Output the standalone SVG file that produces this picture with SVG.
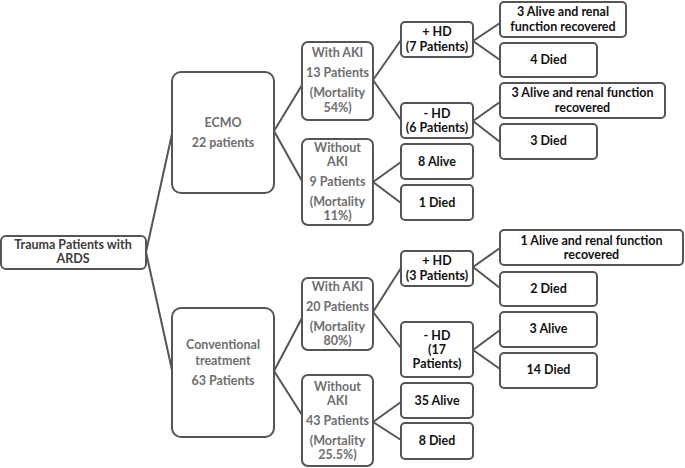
<svg xmlns="http://www.w3.org/2000/svg" width="685" height="468" viewBox="0 0 685 468">
<style>
rect{fill:#fff;stroke:#555;stroke-width:2}
text{font-family:Lato,"Liberation Sans",sans-serif;font-weight:bold;font-size:12.5px;text-anchor:middle}
.g{fill:#6e6e6e}
.d{fill:#3c3c3c}
.k{fill:#111}
#connectors line{stroke:#555;stroke-width:2}
</style>
<g id="connectors">
<line x1="146" y1="252" x2="172" y2="134"/>
<line x1="146" y1="252" x2="172" y2="370"/>
<line x1="274" y1="131" x2="302" y2="85"/>
<line x1="274" y1="131" x2="302" y2="181"/>
<line x1="274" y1="371" x2="302" y2="318"/>
<line x1="274" y1="371" x2="302" y2="415"/>
<line x1="373" y1="80" x2="401" y2="40"/>
<line x1="373" y1="80" x2="401" y2="120"/>
<line x1="373" y1="182" x2="401" y2="162"/>
<line x1="373" y1="182" x2="401" y2="203"/>
<line x1="373" y1="312" x2="401" y2="268"/>
<line x1="373" y1="312" x2="401" y2="348"/>
<line x1="373" y1="422" x2="401" y2="402"/>
<line x1="373" y1="422" x2="401" y2="440"/>
<line x1="473" y1="41" x2="500" y2="23"/>
<line x1="473" y1="41" x2="500" y2="60"/>
<line x1="473" y1="121" x2="500" y2="102"/>
<line x1="473" y1="121" x2="500" y2="142"/>
<line x1="473" y1="267" x2="500" y2="248"/>
<line x1="473" y1="267" x2="500" y2="288"/>
<line x1="473" y1="350" x2="500" y2="330"/>
<line x1="473" y1="350" x2="500" y2="369"/>
</g>
<g id="root"><rect x="1" y="236" width="145" height="33" rx="5"/><text class="d" x="73" y="249">Trauma Patients with</text><text class="d" x="73" y="263">ARDS</text></g>
<g id="ecmo"><rect x="172" y="72" width="102" height="121" rx="9"/><text class="g" x="223" y="127">ECMO</text><text class="g" x="223" y="147">22 patients</text></g>
<g id="conv"><rect x="172" y="308" width="102" height="129" rx="9"/><text class="g" x="223" y="349">Conventional</text><text class="g" x="223" y="365">treatment</text><text class="g" x="223" y="385">63 Patients</text></g>
<g id="ecmo-aki"><rect x="302" y="42" width="71" height="78" rx="6"/><text class="g" x="337.5" y="57">With AKI</text><text class="g" x="337.5" y="77">13 Patients</text><text class="g" x="337.5" y="97">(Mortality</text><text class="g" x="337.5" y="112">54%)</text></g>
<g id="ecmo-noaki"><rect x="302" y="139" width="71" height="86" rx="6"/><text class="g" x="337.5" y="152">Without</text><text class="g" x="337.5" y="166">AKI</text><text class="g" x="337.5" y="186">9 Patients</text><text class="g" x="337.5" y="206">(Mortality</text><text class="g" x="337.5" y="220">11%)</text></g>
<g id="conv-aki"><rect x="302" y="278" width="71" height="72" rx="6"/><text class="g" x="337.5" y="291">With AKI</text><text class="g" x="337.5" y="311">20 Patients</text><text class="g" x="337.5" y="331">(Mortality</text><text class="g" x="337.5" y="345">80%)</text></g>
<g id="conv-noaki"><rect x="302" y="375" width="71" height="91" rx="6"/><text class="g" x="337.5" y="391">Without</text><text class="g" x="337.5" y="405">AKI</text><text class="g" x="337.5" y="425">43 Patients</text><text class="g" x="337.5" y="445">(Mortality</text><text class="g" x="337.5" y="459">25.5%)</text></g>
<g id="hd7"><rect x="401" y="22" width="72" height="35" rx="4"/><text class="k" x="437" y="36">+ HD</text><text class="k" x="437" y="51">(7 Patients)</text></g>
<g id="nhd6"><rect x="401" y="103" width="72" height="35" rx="4"/><text class="k" x="437" y="118">- HD</text><text class="k" x="437" y="132">(6 Patients)</text></g>
<g id="alive8"><rect x="401" y="144" width="72" height="35" rx="4"/><text class="k" x="437" y="166">8 Alive</text></g>
<g id="died1"><rect x="401" y="185" width="72" height="35" rx="4"/><text class="k" x="437" y="207">1 Died</text></g>
<g id="hd3"><rect x="401" y="251" width="72" height="35" rx="4"/><text class="k" x="437" y="265">+ HD</text><text class="k" x="437" y="280">(3 Patients)</text></g>
<g id="nhd17"><rect x="401" y="322" width="72" height="55" rx="4"/><text class="k" x="437" y="340">- HD</text><text class="k" x="437" y="354">(17</text><text class="k" x="437" y="368">Patients)</text></g>
<g id="alive35"><rect x="401" y="383" width="72" height="35" rx="4"/><text class="k" x="437" y="405">35 Alive</text></g>
<g id="died8"><rect x="401" y="423" width="72" height="36" rx="4"/><text class="k" x="437" y="445">8 Died</text></g>
<g id="a3r1"><rect x="500" y="2" width="126" height="35" rx="4"/><text class="k" x="563" y="16">3 Alive and renal</text><text class="k" x="563" y="31">function recovered</text></g>
<g id="died4"><rect x="500" y="43" width="97" height="34" rx="4"/><text class="k" x="548.5" y="64">4 Died</text></g>
<g id="a3r2"><rect x="500" y="83" width="165" height="35" rx="4"/><text class="k" x="582.5" y="97">3 Alive and renal function</text><text class="k" x="582.5" y="112">recovered</text></g>
<g id="died3"><rect x="500" y="124" width="97" height="35" rx="4"/><text class="k" x="548.5" y="145">3 Died</text></g>
<g id="a1r"><rect x="500" y="230" width="183" height="35" rx="4"/><text class="k" x="591.5" y="245">1 Alive and renal function</text><text class="k" x="591.5" y="259">recovered</text></g>
<g id="died2"><rect x="500" y="272" width="97" height="34" rx="4"/><text class="k" x="548.5" y="293">2 Died</text></g>
<g id="alive3"><rect x="500" y="312" width="97" height="35" rx="4"/><text class="k" x="548.5" y="333">3 Alive</text></g>
<g id="died14"><rect x="500" y="353" width="97" height="35" rx="4"/><text class="k" x="548.5" y="374">14 Died</text></g>
</svg>
